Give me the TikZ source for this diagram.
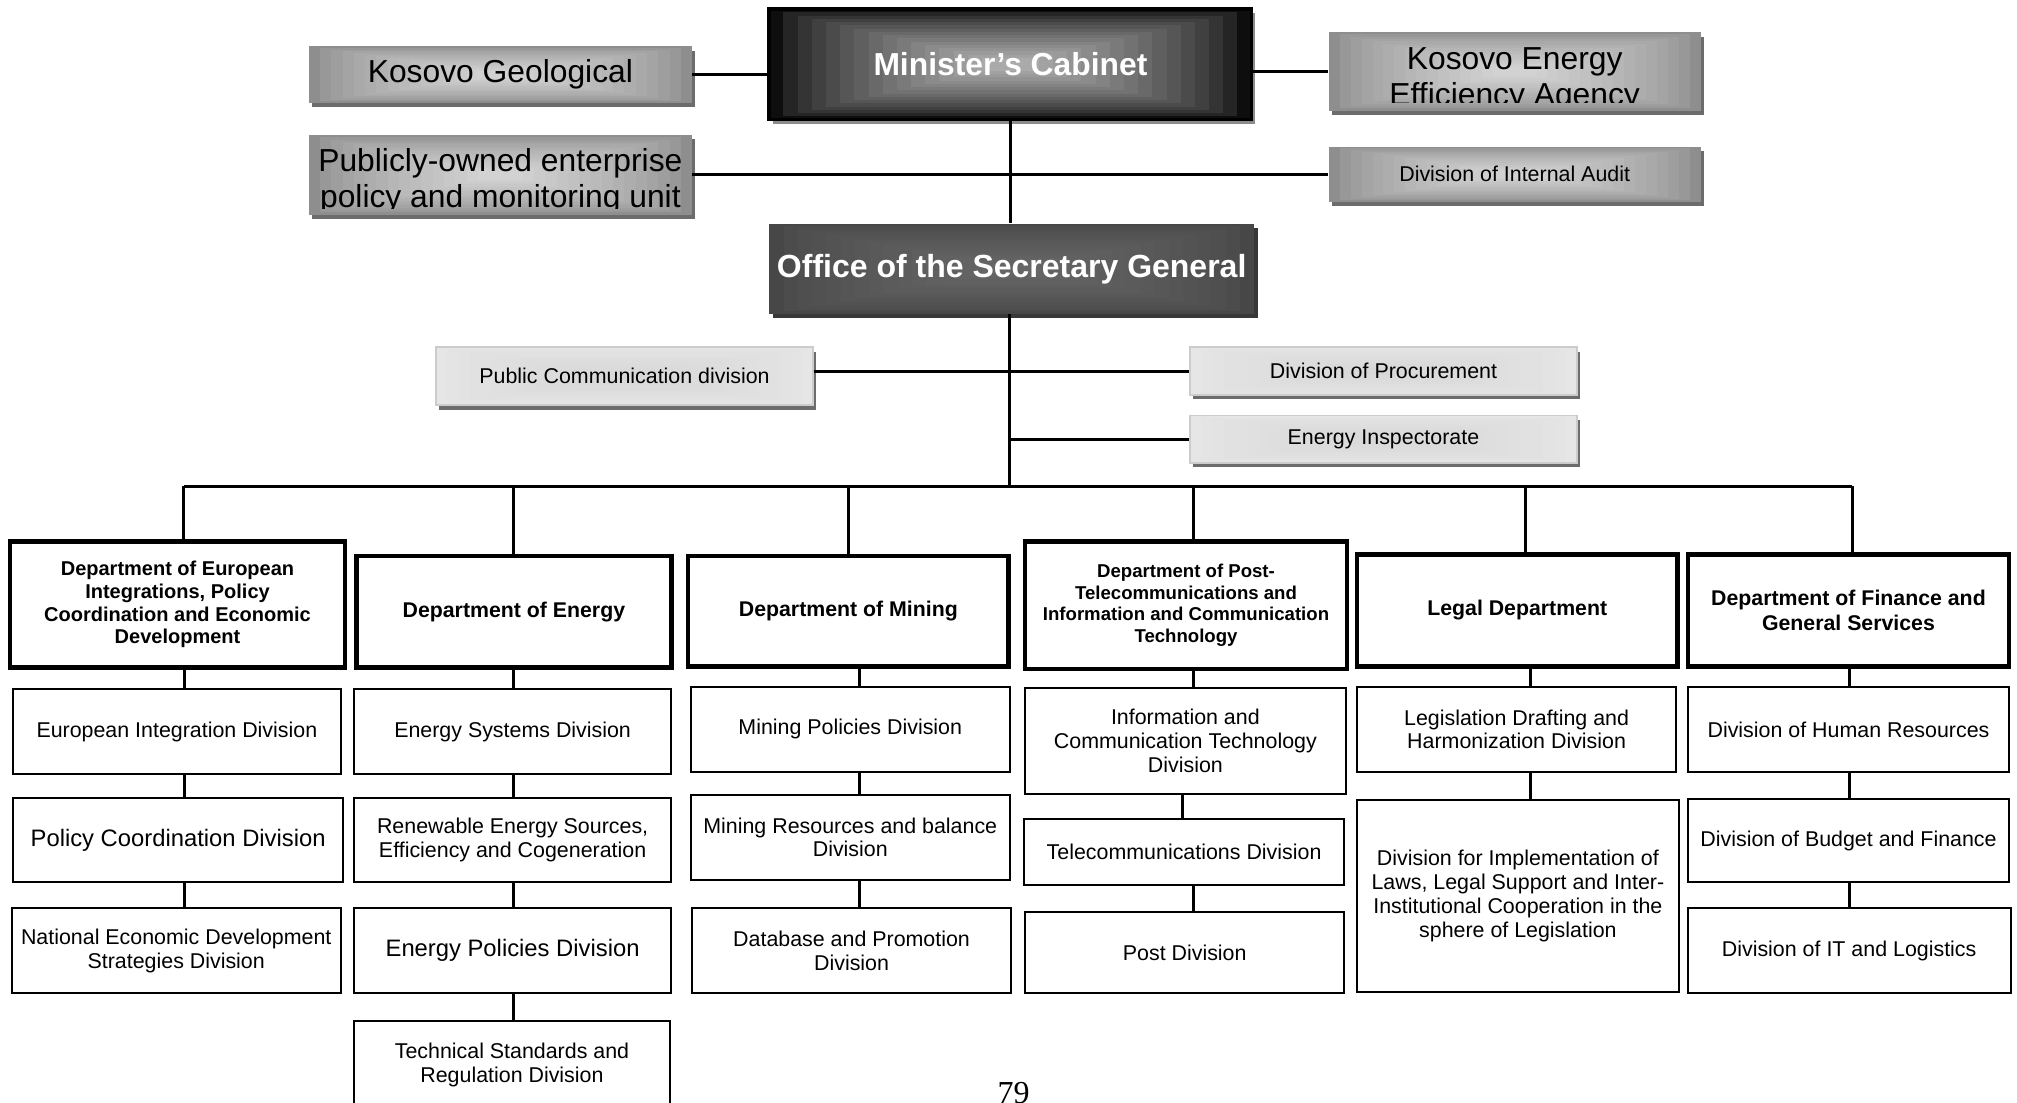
\documentclass[tikz,border=0pt]{standalone}
\usepackage{fontspec}
\setmainfont{Liberation Sans}
\newfontfamily\pagefont{Liberation Serif}
\usetikzlibrary{calc,shadows}

\definecolor{cabedge}{HTML}{0E0E0E}
\definecolor{cabcore}{HTML}{AAAAAA}
\definecolor{grayedge}{HTML}{8E8E8E}
\definecolor{graycore}{HTML}{D2D2D2}
\definecolor{secedge}{HTML}{474747}
\definecolor{seccore}{HTML}{666666}
\definecolor{lightedge}{HTML}{E6E6E6}
\definecolor{lightcore}{HTML}{D8D8D8}
\definecolor{shadowgray}{HTML}{6C6C6C}

% concentric fill, edge colour first
\tikzset{
  boxfill/.style 2 args={path picture={
      \foreach \k in {0,...,15}{
        \pgfmathtruncatemacro\pct{100*(\k/15)^0.7}
        \fill[#2!\pct!#1] ($(path picture bounding box.south west)!\k/34!(path picture bounding box.north east)$)
          rectangle ($(path picture bounding box.north east)!\k/34!(path picture bounding box.south west)$);
      }}},
}

\begin{document}
\begin{tikzpicture}[x=0.6432pt,y=0.6432pt,
    every node/.style={inner sep=0pt,align=center},
    boxsize/.style 2 args={minimum width=#1*0.6432pt,minimum height=#2*0.6432pt},
    link/.style={line width=1.5pt},
    shadowed/.style={drop shadow={shadow xshift=1.7pt,shadow yshift=-2.2pt,fill=#1,opacity=1}},
    topbox/.style={fill=grayedge,boxfill={grayedge}{graycore},shadowed=shadowgray,font=\fontsize{15.9}{18}\selectfont},
    cabbox/.style={draw=black,line width=1.8pt,fill=cabedge,boxfill={cabedge}{cabcore},shadowed=black!45,text=white,font=\bfseries\fontsize{15.9}{18}\selectfont},
    secbox/.style={fill=secedge,boxfill={secedge}{seccore},shadowed=black!78,text=white,font=\bfseries\fontsize{16}{18}\selectfont},
    lightbox/.style={draw=black!20,line width=0.9pt,fill=lightedge,boxfill={lightedge}{lightcore},shadowed=shadowgray,font=\fontsize{10.7}{12}\selectfont},
    deptbox/.style={draw,line width=2.2pt,font=\bfseries\fontsize{10.65}{12.9}\selectfont},
    divbox/.style={draw,line width=1pt,font=\fontsize{10.7}{11.9}\selectfont},
    bigdiv/.style={divbox,font=\fontsize{11.9}{14}\selectfont}]
  \useasboundingbox (0,0) rectangle (1568,-857);

  % cabinet level
  \node[topbox,boxsize={298}{44}] (geo) at (389,-58) {Kosovo Geological};
  \node[cabbox,boxsize={375}{86}] (cab) at (785.5,-50) {Minister’s Cabinet};
  \node[topbox,boxsize={289}{61}] (keea) at (1177.5,-55.5) {};
  \node[topbox,boxsize={298}{62}] (pub) at (389,-136) {};
  \node[topbox,boxsize={289}{43},font=\fontsize{10.7}{12}\selectfont] (audit) at (1177.5,-135.5) {Division of Internal Audit};
  \node[secbox,boxsize={377}{70}] (osg) at (786.5,-209) {Office of the Secretary General};
  \begin{scope}
    \clip (keea.north west) rectangle ($(keea.south east)+(0,7)$);
    \node[font=\fontsize{15.9}{18}\selectfont] (keeatext) at (1177.5,-62) {Kosovo Energy\\Efficiency Agency};
  \end{scope}
  \begin{scope}
    \clip (pub.north west) rectangle ($(pub.south east)+(0,5)$);
    \node[font=\fontsize{15.9}{18}\selectfont] (pubtext) at (389,-141) {Publicly-owned enterprise\\policy and monitoring unit};
  \end{scope}

  % secretary general level
  \node[lightbox,boxsize={293}{45}] (pcd) at (485.5,-292.5) {Public Communication division};
  \node[lightbox,boxsize={301}{37}] (proc) at (1075.5,-288.5) {Division of Procurement};
  \node[lightbox,boxsize={301}{37}] (insp) at (1075.5,-341.5) {Energy Inspectorate};

  % departments
  \node[deptbox,boxsize={260}{98},font=\bfseries\fontsize{10}{11.4}\selectfont] (d1) at (138,-470)
    {Department of European\\Integrations, Policy\\Coordination and Economic\\Development};
  \node[deptbox,boxsize={245}{87}] (d2) at (399.5,-475.5) {Department of Energy};
  \node[deptbox,boxsize={249}{86}] (d3) at (659.5,-475) {Department of Mining};
  \node[deptbox,boxsize={250}{99},font=\bfseries\fontsize{9.3}{10.7}\selectfont] (d4) at (922,-470.5)
    {Department of Post-\\Telecommunications and\\Information and Communication\\Technology};
  \node[deptbox,boxsize={249}{87}] (d5) at (1179.5,-474.5) {Legal Department};
  \node[deptbox,boxsize={250}{87}] (d6) at (1437,-474.5) {Department of Finance and\\General Services};

  % divisions
  \node[divbox,boxsize={255}{66}] (e1) at (137.5,-569) {European Integration Division};
  \node[bigdiv,boxsize={257}{66}] (e2) at (138.5,-653) {Policy Coordination Division};
  \node[divbox,boxsize={256}{66}] (e3) at (137,-739) {National Economic Development\\Strategies Division};

  \node[divbox,boxsize={247}{66}] (g1) at (398.5,-569) {Energy Systems Division};
  \node[divbox,boxsize={247}{66}] (g2) at (398.5,-653) {Renewable Energy Sources,\\Efficiency and Cogeneration};
  \node[bigdiv,boxsize={247}{66}] (g3) at (398.5,-739) {Energy Policies Division};
  \node[divbox,boxsize={246}{68}] (g4) at (398,-828) {Technical Standards and\\Regulation Division};

  \node[divbox,boxsize={248}{66}] (m1) at (661,-567) {Mining Policies Division};
  \node[divbox,boxsize={248}{66}] (m2) at (661,-651) {Mining Resources and balance\\Division};
  \node[divbox,boxsize={248}{66}] (m3) at (662,-739) {Database and Promotion\\Division};

  \node[divbox,boxsize={249}{82}] (t1) at (921.5,-576) {Information and\\Communication Technology\\Division};
  \node[divbox,boxsize={249}{51}] (t2) at (920.5,-662.5) {Telecommunications Division};
  \node[divbox,boxsize={248}{63}] (t3) at (921,-740.5) {Post Division};

  \node[divbox,boxsize={248}{66}] (l1) at (1179,-567) {Legislation Drafting and\\Harmonization Division};
  \node[divbox,boxsize={250}{149}] (l2) at (1180,-696.5)
    {Division for Implementation of\\Laws, Legal Support and Inter-\\Institutional Cooperation in the\\sphere of Legislation};

  \node[divbox,boxsize={250}{66}] (f1) at (1437,-567) {Division of Human Resources};
  \node[divbox,boxsize={250}{65}] (f2) at (1437,-653.5) {Division of Budget and Finance};
  \node[divbox,boxsize={251}{66}] (f3) at (1437.5,-739) {Division of IT and Logistics};

  \node[font=\pagefont\fontsize{16}{18}\selectfont,anchor=base] (page) at (788,-858) {79};

  % connectors
  \draw[link] (geo.east) -- (geo.east -| cab.west);
  \draw[link] (keea.west) -- (keea.west -| cab.east);
  \draw[link] (pub.east) -- (pub.east -| audit.west);
  \draw[link] (cab.south) -- (cab.south |- osg.north);

  \coordinate (bus) at (785,-378);
  \draw[link] (osg.south -| bus) -- (bus);
  \draw[link] (pcd.east |- proc.west) -- (proc.west);
  \draw[link] (insp.west) -- (insp.west -| bus);

  \coordinate (s1) at (143,-378);
  \coordinate (s2) at (399,-378);
  \coordinate (s3) at (660,-378);
  \coordinate (s4) at (928,-378);
  \coordinate (s5) at (1186,-378);
  \coordinate (s6) at (1440,-378);
  \draw[link] (s1) -- (s6);
  \foreach \d/\s in {d1/s1,d2/s2,d3/s3,d4/s4,d5/s5,d6/s6}
    \draw[link] (\s) -- (\s |- \d.north);

  \coordinate (k1) at (143.5,0);
  \coordinate (k2) at (399,0);
  \coordinate (k3) at (668,0);
  \coordinate (k4) at (928,0);
  \coordinate (k4b) at (919,0);
  \coordinate (k5) at (1190,0);
  \coordinate (k6) at (1438,0);
  \foreach \a/\b/\k in {d1/e1/k1,e1/e2/k1,e2/e3/k1,
                        d2/g1/k2,g1/g2/k2,g2/g3/k2,g3/g4/k2,
                        d3/m1/k3,m1/m2/k3,m2/m3/k3,
                        d4/t1/k4,t1/t2/k4b,t2/t3/k4,
                        d5/l1/k5,l1/l2/k5,
                        d6/f1/k6,f1/f2/k6,f2/f3/k6}
    \draw[link] (\a.south -| \k) -- (\b.north -| \k);
\end{tikzpicture}
\end{document}
